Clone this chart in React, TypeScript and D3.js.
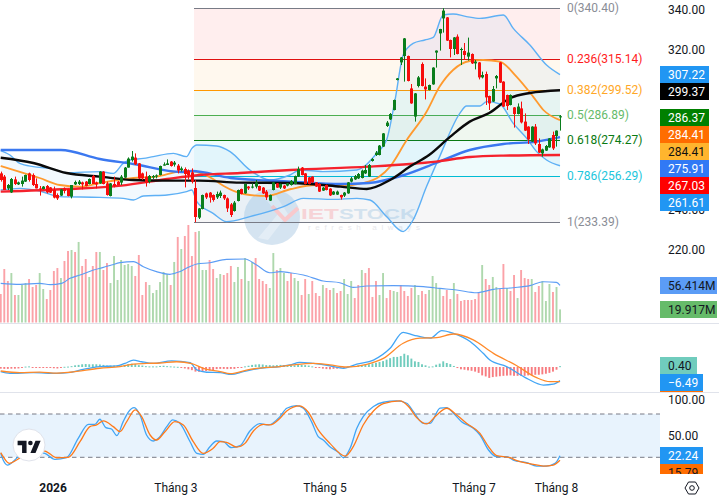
import React from "react";
import * as d3 from "d3";

type Pt = [number, number];

const opens = [257.8,256.2,250.3,248.3,254.8,252.3,252.5,253.7,257.8,257,252.5,250.3,250,251.5,250.8,249.5,247,246.7,250.3,250,246.2,252.3,252.5,253.3,253.7,252.5,256.5,253.3,252.8,258.7,252.8,246.5,252.5,253.7,253.2,255.7,260.7,264.5,265.7,262.8,257.8,256.2,253.7,255.8,256.2,257,261.7,262,263.7,262.2,261.7,259.5,260,259.2,258.3,250.5,235.7,240,247.8,248.2,247,245.8,246.5,247,245.3,242.3,239,244,250,247.8,251.2,250.7,251.2,251.5,250.7,248.7,244.2,249.5,252.8,250.7,251.7,251.7,252,252.5,256.2,260.7,257.8,255.8,256.2,253.3,252.5,249.2,252,250.2,247.2,247.2,247,246.7,247.8,253.7,254.8,255.3,255.5,257.8,256.2,264,267,267,271.2,281.5,284.8,289.5,304.5,313.3,316.5,316.5,300.3,286.2,301.5,312.5,301.2,299.5,302.3,318.2,327.8,335.3,335.8,324.5,320,326.2,319.5,319,316.2,317.5,312.8,313.3,305.8,307.5,296.5,293.7,305.3,313.3,303.7,297,292,290.8,287.5,290.3,283.7,281.2,273.7,281.2,272.5,267.8,269.2,270.8,277,276.5,285.8];
const closes = [254.5,249.5,252,255,252.5,253.3,254.2,257,254.5,252,250.3,249.8,251.2,248.3,248.2,245.7,245.3,249.8,249,246.5,252,253.5,253.7,252.3,251.5,255,252.5,252.3,258.7,252.5,247,252.8,251.5,252,256.2,260.7,265.2,266.2,262.3,255.3,255.3,253.3,256.5,256.5,256.8,261.5,262.3,262.8,261.5,263.2,259.2,260.3,257.5,257,253.7,236,240.3,247,245.8,245.7,244.5,247.5,248.2,245.3,240.3,237,243.2,249.5,247.5,252.5,250.3,251.2,253.2,249.2,247.8,245.8,247,253.3,250.7,252.5,250.3,252.8,254,256.5,260,257,252.5,252.5,253.3,251.2,248.7,250.7,249.5,246.8,248.7,248.7,245.8,248.2,253.3,255.3,256.5,257.5,259.2,259.5,262,265,268.2,271.7,277.8,283.2,287.5,294.5,305.3,315.8,325.3,304,292.8,297.8,305.8,301.5,299.8,302,310.7,319.2,330,339.2,324.2,320,325.8,317.5,320,317,318.2,312.8,313.7,305.8,307,295.8,292.8,300,306.5,303.2,291.2,291.5,297,287.5,291.2,283.3,279.2,274.8,281.2,272.8,268.2,269.8,271.5,275.3,270.3,279.2,286.37];
const highs = [258.7,257,252.5,255.5,256.2,253.7,256.2,257.2,258.2,257.8,255.3,251.5,251.5,252,251,251.2,247.8,250,250.8,250.2,252,254.2,254.5,253.7,254,255.3,257,253.7,258.9,258.9,253.7,253,256.2,254,257,261,265.8,269,267.8,263,258.2,258.7,257,257,257.3,261.7,263.3,264.8,264,264,262.5,261.2,260.8,259.8,260.3,254.5,240.5,247.2,248.2,248.5,247.3,248.7,249.2,247.2,245.8,243,244,249.7,250.2,252.7,251.5,252.8,254.5,251.7,251,249.5,247.2,253.5,253,252.7,252,253,254.5,256.7,261.2,261,258,256,256.4,253.5,253,251,252.2,250.4,249,249.2,247.2,248.5,253.5,256,257,258,259.7,262,262.5,265.5,269,272,278,284,288,294.7,305.5,316,325.5,316.7,302.5,298,306.5,313.3,305.3,302.2,310.9,319.3,330.1,340.4,336,324.7,326,327.3,320.7,323,325.7,317.8,314.5,313.5,308.7,308.7,296.7,301.5,307,313.5,303.9,297.2,297.3,291,292.8,293.7,287.8,281.4,281.4,282.5,275.3,270.2,272,275.5,278.7,279.3,287];
const lows = [253.7,249.5,249.5,248,252,252,251.2,253.5,253.7,251.5,250.3,246.7,249.8,247.8,248,245.3,244.5,246.5,247.8,246.3,245.3,252,252,249.8,251.3,252.3,252.5,250.3,252.6,252.3,246.7,246.3,250.8,251.8,252,255.5,260.7,263.7,262,255,254.5,251.2,252.8,255,255.3,256.8,261.7,262,261.2,261.2,257.8,258.7,250.8,254.8,252.8,233.39,235,239.8,245,243.2,243.7,245,245.5,244.5,238.5,236,238.7,243.8,247.3,247.6,249.5,250.3,250.3,249,247.5,244.5,244,249.3,250.5,250,250,251.3,251.7,252.3,256,256.8,252.3,252.3,253,251,248.5,249,249.3,246.5,247,247,244.7,246,247.6,253.3,254.5,255,255.3,257.5,256,263.7,266.5,266.8,271,281,284.5,289.3,304.3,312,303.7,303.8,292.6,283.7,300.8,301.3,294.8,299.3,302.1,310.7,319.2,328.2,324,315.8,317,317.3,312,314.5,314.2,312.5,309.8,304.8,305.3,292,289.5,293.5,300.3,303,291,289.5,291.8,280.7,287.3,282.8,279,272.5,273.5,272,268,266.2,269,270.6,269.5,271.2,279.2];

const volumes = [43.3,81.3,63.1,75.2,41.8,41.8,57,60,66.1,54,57,75.2,50.9,35.7,49.4,78.3,82.8,67.6,93.5,108.7,110.2,107.2,122.4,85.9,96.5,69.2,85.9,107.2,107.2,79.8,90.4,60,101,64.6,95,87.4,88.9,85.9,70.7,102.6,41.8,61.5,57,44.8,49.4,61.5,76.8,73.7,57,92,130,111.7,131.5,148.2,101,137.6,139,79.8,79.8,95,81.3,67.6,73.7,72.2,75.2,85.9,61.5,84.4,66.1,98,63.1,92,98,66.1,63.1,58.5,52.4,105.6,79.8,82.8,75.2,63.1,75.2,67.6,63.1,41.8,66.1,43.3,63.1,44.8,40.3,57,52.4,49.4,52.4,44.8,47.9,66.1,43.3,63.1,37.2,57,79.8,75.2,82.8,38.8,63.1,41.8,75.2,37.2,49.4,47.9,46.4,57,47.9,40.3,52.4,57,41.8,47.9,43.3,49.4,70.7,60,52.4,40.3,49.4,35.7,60,43.3,32.7,34.2,34.2,34.2,35.7,44.8,87.4,66.1,57,69.2,54,50.9,88.9,52.4,47.9,72.2,37.2,79.8,67.6,66.1,66.1,46.4,55.5,63.1,32.7,58.5,46.4,54,19.917];
const volumeSides = "rrrgrgggrrrggrrrrgrrgrgrrgrrgrrgggggggrrrrggggggrgrgrrrrgggrrggrrrggrgggrrrrggrggrrggrrgrrrgrrgrrggg".concat("rrgrrrrggrrggrrrrggrrggggrrrgrrrrrrrgrrggrrgrrgrrrgrrgggrgg");

const macdHist = [-.8,-.9,-.9,-.8,-.8,-.7,-.4,.2,.3,-.2,-.3,-.3,-.3,-.3,-.4,-.6,-.7,-.3,.1,.2,.4,.8,1,1.3,1.4,1.3,1.3,1.3,1.2,1,.7,.7,.7,.7,.7,1,1.4,1.6,1.4,.9,.7,.4,.3,.3,.3,.5,.6,.4,.3,.2,.1,-.2,-.7,-1.1,-1.5,-2.2,-2.3,-2.1,-1.9,-1.7,-1.5,-1,-.9,-.9,-1,-.9,-.9,-.5,-.3,.3,.6,1,1.2,1.3,1.2,.9,.9,.8,.9,1,.9,.8,.7,.8,1,1,.9,.7,.3,-.2,-.5,-.8,-1,-1.1,-.9,-.8,-.5,-.1,.2,.4,.5,.8,.9,1.1,1.3,1.7,2,2.4,2.8,3.5,4.2,4.8,4.8,5.2,6.3,5.6,4,2.7,2.4,1.3,.8,.2,.3,1.1,1.6,2.7,1.9,1.4,.5,-.5,-1.1,-1.3,-1.6,-1.8,-2.2,-2.8,-4,-4.5,-5.2,-4.8,-4.6,-4.4,-4.2,-4.1,-4,-4.2,-4.2,-4.2,-4.2,-4,-3.9,-3.7,-3.7,-3.5,-3.2,-2.8,-2.2,-1.3,.4];

const maBlue: Pt[] = [[0,269.5],[17,269.5],[28,265],[37.5,262.5],[51,258.5],[54,259],[65,255.5],[82,253.7],[96,252.5],[104,253],[114,257],[123,263],[132.5,269.5],[142,272.5],[151.4,273.7],[158,275.91]];
const maRed: Pt[] = [[0,248.7],[19,250],[34,251.7],[47,255],[56.3,257],[67.6,258],[82,259.5],[104,261.2],[115.6,262.5],[123,263.7],[132.5,266],[142,266.7],[158,267.03]];
const maBlack: Pt[] = [[0,265.6],[9.2,263],[18.6,258],[28,256.2],[37.5,254.5],[47,254.2],[56,254.2],[67.6,253.2],[82,253],[96,251.2],[103.4,250],[110,254.5],[115.6,261.2],[121,267],[127,276.2],[132.5,283.7],[138,288],[144,295.5],[149.5,298],[158,299.37]];
const maOrange: Pt[] = [[0,261.5],[5.4,258.6],[11,255.5],[16.7,252],[22.4,251.2],[28,253],[37.5,255.5],[44,256.2],[50,258.6],[53.5,259.1],[56.3,258],[60,255],[63,251.5],[68.6,247.5],[75,246.5],[82,250],[89,252],[96,251.5],[102.5,253],[107,256.2],[110,261.2],[114.7,274.5],[120.3,288.6],[124,301.2],[127.8,309.5],[132.5,314],[136.3,314.5],[141,313.7],[145.7,306.2],[150.4,296.2],[153.3,289.5],[158,284.41]];
const bbUpper: Pt[] = [[0,269.2],[2.6,267],[5.4,262.8],[9.2,261.2],[14,260.3],[18.6,258.2],[28,258.7],[31.8,257.8],[34.6,262.8],[36.5,264.5],[40.3,265.3],[43.1,266.2],[48.8,267.8],[52.5,266.2],[54,270.3],[55.4,272],[61,271.5],[64.8,268.7],[70.4,259.5],[76,254.5],[81.7,257],[84.6,259.5],[91,258.7],[100.6,259.5],[106.2,267.8],[109,274.5],[111.4,294.5],[113.7,317],[116.5,322.8],[119.8,324.5],[122.2,325.8],[125,337],[127.8,337.5],[131.6,336.2],[135.4,335.3],[142,337],[144.8,330.3],[149.5,322],[154.2,312],[158,307.22]];
const bbLower: Pt[] = [[0,249.5],[5.4,250.3],[11,249],[16.7,246.2],[28,245.8],[34.6,245.3],[37.5,244.5],[40.3,246.5],[47,247],[52.5,248.7],[54,249.5],[55.4,243.7],[60,237.8],[63.8,233.7],[70.4,236.2],[79.9,241.2],[85.5,245.3],[94,244.8],[100.6,245.3],[104.3,244.5],[109,236.2],[113.7,228.7],[116.5,234.5],[120.3,251.2],[124,266.2],[129.7,287.8],[131.6,291.5],[135.4,291.5],[137.3,293.7],[141,292.5],[144.8,282.8],[148.6,275.3],[151.4,268.7],[154.2,264.5],[158,261.61]];

const volumeMa: Pt[] = [[0,59.5],[5.5,58],[11,59.5],[14,57.5],[17.2,59.5],[19.6,67.1],[22.4,72.2],[26.2,79.8],[29,83.8],[31.3,87.4],[33.7,91],[37.5,92.5],[40.3,84.9],[44,77.3],[47.8,73.2],[50.6,77.3],[53,83.8],[55.4,88.9],[59.1,90.9],[63.8,96],[69,96.5],[72.3,87.4],[76,75.7],[79,77.3],[81.7,75.7],[85.5,72.2],[91.1,63.1],[95.8,60.5],[99.6,53.4],[103.4,55.5],[110.9,56],[119.4,54.5],[124.1,51.9],[128.8,49.4],[134.5,45.3],[139.2,50.4],[144.8,52.9],[149.5,56],[153.3,62],[157,61],[158,56.414]];

const macdLine: Pt[] = [[0,-2.2],[2.6,-3],[9.2,-2.7],[15.8,-3],[19.1,-2.7],[23.3,-1.1],[28,.2],[32.8,.5],[35.1,1.7],[37.5,3.3],[39.8,2.5],[43.1,1.7],[48.3,2.9],[53.5,2.1],[55.4,-1.4],[58.2,-2.5],[62,-2.7],[65.2,-3.5],[68.5,-2.2],[73.2,-.6],[78.9,.2],[81.7,1],[84.5,2.2],[88.3,1.7],[93,.6],[96.8,-.6],[100.6,1.4],[105.3,3.3],[110,8.9],[113.7,16.5],[116.6,15.2],[121.3,13.7],[124.6,17.3],[127.9,16],[132.6,12.1],[136.3,6.5],[138.2,3.3],[142.9,.2],[148.6,-5.4],[153.3,-8.6],[156.1,-8.2],[158,-6.49]];
const macdSignal: Pt[] = [[0,-1.9],[5.4,-2.7],[11,-2.4],[15.8,-2.9],[19.6,-2.5],[28,-.6],[33.7,.2],[37.5,1.4],[41.2,1.7],[45,1.9],[49.7,2.5],[54,1.6],[57.2,-.6],[62,-2.2],[64.8,-3.2],[70.4,-1.1],[75.1,-.2],[78.9,.2],[82.7,1],[88.3,1.7],[93,1],[97.7,0],[103.4,1.3],[108.1,4.1],[113.7,11.3],[118.4,13.7],[123.2,14],[127.9,15.7],[133.5,12.9],[139.2,6.5],[145.8,.6],[151.4,-5.1],[155.2,-7],[158,-7]];

const stochK: Pt[] = [[0,25.4],[.7,16.2],[1.9,9.2],[4,16.2],[5.4,23.1],[9,28],[12.5,25.4],[15.3,17.1],[18.6,19.4],[21.9,46.3],[24.8,65.7],[26.6,65.7],[28,72.7],[29.7,61.1],[31.3,59.2],[32.8,50],[34.6,69.4],[36,82.4],[37.7,88.9],[39.4,77.8],[41.2,50.9],[43.1,42.6],[45,48.6],[46.9,62.5],[48.6,71.8],[50.6,67.1],[53.5,41.6],[55.4,25.4],[57.2,24],[59.1,34.7],[61,42.6],[62.9,41.6],[65.2,33.3],[67.6,36.1],[70.4,56.5],[73.2,66.7],[75.6,64.8],[78.9,76.4],[80.8,88],[83.6,91.7],[85.5,88],[87.8,69.4],[89.7,48.6],[91.1,44],[93,34.7],[95.4,26.8],[96.8,19.4],[98.7,32.4],[100.6,60.2],[102.4,76.4],[105.3,90.3],[108.1,96.3],[111.9,98.1],[114.7,94.9],[116.6,83.3],[119.4,67.1],[121.3,67.1],[124.1,88],[126,88.9],[127.9,81],[130.2,69.4],[133.5,60.2],[135.4,50.9],[137.8,30.1],[140.1,20.8],[142.9,20.8],[144.8,16.2],[148.6,12.5],[151.4,7.9],[154.2,7.9],[156.6,11.6],[158,22.24]];
const stochD: Pt[] = [[0,26.4],[.7,20.8],[2.4,11.6],[4.5,16.2],[9,30],[12.5,28.7],[15.8,19.4],[19.1,19.9],[22.4,41.6],[25.2,62.5],[27.1,64.8],[29,70.4],[31.8,62.5],[33.7,55.5],[35.6,69.4],[38,85.6],[39.8,76.4],[42.2,50.9],[44,44],[46.4,55.5],[49.2,69.4],[51.6,64.8],[54.4,41.6],[57.2,25.4],[60,32.4],[62,41.6],[63.8,40.7],[66.7,34.2],[69,39.3],[71.4,56.5],[74.2,65.7],[76.1,64.8],[78.9,74],[80.8,84.2],[84.5,91.2],[86.9,82.4],[89.7,57.9],[93,39.3],[97.3,21.7],[99.6,34.7],[102.4,64.8],[105.3,84.2],[108.1,94.4],[112.8,98.1],[115.2,90.3],[117.5,75],[120.3,66.2],[123.2,78.7],[126,88],[128.8,78.7],[131.6,67.1],[135.4,53.2],[137.8,34.7],[140.1,22.2],[143.9,19.4],[145.8,15.3],[150.5,10.2],[153.3,7.9],[156.1,9.2],[158,15.79]];

const fibRatios = ["0","0.236","0.382","0.5","0.618","0.786","1"];
const fibPrices = [340.4,315.14,299.52,286.89,274.27,256.29,233.39];
const fibLineColors = ["#787b86","#e01010","#ff9800","#4caf50","#0a7a12","#00bcd4","#787b86"];
const fibTextColors = ["#8a8d96","#ff1c1c","#ffa726","#66bb6a","#0a7a12","#1cc6dc","#8a8d96"];
const fibFills = ["#ff0000","#ff9800","#4caf50","#0a8a12","#00bcd4","#787b86"];

const priceTicks = [340,320,240,220];
const stochTicks = [100,50];
const timeLabels = ["2026","Tháng 3","Tháng 5","Tháng 7","Tháng 8"];
const timeIndex = [14.8,49.5,91.6,133.7,157];

const priceLabels = ["307.22","299.37","286.37","284.41","284.41","275.91","267.03","261.61"];
const priceLabelFill = ["#2196f3","#000000","#008000","#ff6d00","#ffb52e","#3179f5","#ff0000","#2196f3"];
const priceLabelText = ["#fff","#fff","#fff","#fff","#111","#fff","#fff","#fff"];
const priceLabelTop = [66,83,109,126,143,160,177,194];

const FONT = "Roboto, sans-serif";

export default function App() {
  const n = closes.length;
  const x = d3.scaleLinear().domain([0, n - 1]).range([0.7, 560]);
  const y = d3.scaleLinear().domain([340, 220]).range([9, 249]);
  const yVol = d3.scaleLinear().domain([0, 148.2]).range([322.5, 225]);
  const yMacd = d3.scaleLinear().domain([0, 16.8]).range([367, 331.7]);
  const yStoch = d3.scaleLinear().domain([20, 80]).range([457.3, 414]);

  const line = (sc: d3.ScaleLinear<number, number>) =>
    d3.line<Pt>().x((d) => x(d[0])).y((d) => sc(d[1])).curve(d3.curveMonotoneX);

  const bandTop = line(y)(bbUpper) as string;
  const bandBottom = (line(y)([...bbLower].reverse()) as string) || "";
  const bandPath = bandTop + "L" + bandBottom.slice(1) + "Z";

  const fx0 = 194;
  const fx1 = 560;

  return (
    <svg
      width={719}
      height={502}
      viewBox="0 0 719 502"
      style={{ position: "fixed", left: 0, top: 0, display: "block", background: "#fff" }}
      fontFamily={FONT}
      fontSize={12}
    >
      {/* fib backgrounds */}
      {fibFills.map((c, i) => (
        <rect key={i} x={fx0} width={fx1 - fx0} y={y(fibPrices[i])} height={y(fibPrices[i + 1]) - y(fibPrices[i])} fill={c} opacity={0.065} />
      ))}

      {/* watermark */}
      <g>
        <circle cx={272} cy={217} r={28} fill="#c7dbec" opacity={0.75} />
        <path d="M262 195 L278 214 L258 238 L268 240 L288 214 L274 193 Z" fill="#ffffff" opacity={0.35} />
        <path d="M272 206 L285 220 L298 208" fill="none" stroke="#f8c9cc" strokeWidth={4} />
        <text x={301} y={219} fontFamily="'Liberation Sans', sans-serif" fontWeight={700} fontSize={15} textLength={38} lengthAdjust="spacingAndGlyphs" fill="#f6d3d6">IET</text>
        <text x={339} y={219} fontFamily="'Liberation Sans', sans-serif" fontWeight={700} fontSize={15} textLength={77} lengthAdjust="spacingAndGlyphs" fill="#d3e2ee">STOCK</text>
        <text x={308} y={230} fontFamily="'Liberation Sans', sans-serif" fontSize={8} textLength={112} fill="#e8e8ec">refresh always</text>
      </g>

      {/* fib lines */}
      {fibPrices.map((p, i) => (
        <line key={i} x1={fx0} x2={fx1} y1={Math.round(y(p)) + 0.5} y2={Math.round(y(p)) + 0.5} stroke={fibLineColors[i]} strokeWidth={1} />
      ))}

      {/* bollinger */}
      <path d={bandPath} fill="#2196f3" opacity={0.06} />
      <path d={line(y)(bbUpper) as string} fill="none" stroke="#5eb0f5" strokeWidth={1.4} />
      <path d={line(y)(bbLower) as string} fill="none" stroke="#5eb0f5" strokeWidth={1.4} />

      {/* moving averages behind candles */}
      <path d={line(y)(maOrange) as string} fill="none" stroke="#ff9a2e" strokeWidth={1.8} />
      <path d={line(y)(maBlue) as string} fill="none" stroke="#3b78f0" strokeWidth={2.4} />
      <path d={line(y)(maRed) as string} fill="none" stroke="#f5222d" strokeWidth={2.4} />
      <path d={line(y)(maBlack) as string} fill="none" stroke="#0a0a0a" strokeWidth={2.4} />

      {/* candles */}
      {closes.map((c, i) => {
        const up = c >= opens[i];
        const col = up ? "#0a7d1c" : "#f70d0d";
        const cx = Math.round(x(i));
        const t = y(Math.max(c, opens[i]));
        const b = y(Math.min(c, opens[i]));
        return (
          <g key={i}>
            <rect x={cx} width={1} y={y(highs[i])} height={y(lows[i]) - y(highs[i])} fill={col} />
            <rect x={cx - 1} width={3} y={t} height={Math.max(b - t, 1)} fill={col} />
          </g>
        );
      })}

      {/* volume */}
      {volumes.map((v, i) => (
        <rect key={i} x={x(i) - 0.9} width={1.9} y={yVol(v)} height={yVol(0) - yVol(v)} fill={volumeSides[i] === "g" ? "#aed8ad" : "#fba2a8"} />
      ))}
      <path d={line(yVol)(volumeMa) as string} fill="none" stroke="#5c9df5" strokeWidth={1.1} />
      <line x1={0} x2={719} y1={323.5} y2={323.5} stroke="#e0e3eb" />

      {/* macd */}
      {macdHist.map((v, i) => {
        const a = yMacd(v);
        const b = yMacd(0);
        return (
          <rect key={i} x={x(i) - 0.9} width={1.9} y={Math.min(a, b)} height={Math.max(Math.abs(a - b), 1)} fill={v >= 0 ? "#70ccbd" : "#f77c80"} />
        );
      })}
      <path d={line(yMacd)(macdLine) as string} fill="none" stroke="#42a5f5" strokeWidth={1.3} />
      <path d={line(yMacd)(macdSignal) as string} fill="none" stroke="#ff8a2a" strokeWidth={1.3} />
      <line x1={0} x2={719} y1={392.5} y2={392.5} stroke="#e0e3eb" />

      {/* stochastic */}
      <rect x={0} width={660} y={yStoch(80)} height={yStoch(20) - yStoch(80)} fill="#e8f3fd" />
      {[80, 20].map((v) => (
        <line key={v} x1={0} x2={660} y1={yStoch(v)} y2={yStoch(v)} stroke="#787b86" strokeWidth={1} strokeDasharray="4.5 3.5" />
      ))}
      <path d={line(yStoch)(stochK) as string} fill="none" stroke="#42a5f5" strokeWidth={1.3} />
      <path d={line(yStoch)(stochD) as string} fill="none" stroke="#ff7a1a" strokeWidth={1.3} />

      {/* tradingview logo */}
      <circle cx={29} cy={445} r={16} fill="#fff" stroke="#e0e3eb" strokeWidth={1} />
      <g transform="translate(17.6,437) scale(0.64)" fill="#131722">
        <path d="M14 6H0v7h7v12h7V6zM28 25h-8L28 6h8L28 25zM20 13a3.6 3.6 0 1 0 0-7.2 3.6 3.6 0 0 0 0 7.2z" />
      </g>

      {/* fib labels */}
      {fibRatios.map((r, i) => (
        <text key={i} x={567} y={y(fibPrices[i]) + 4} fill={fibTextColors[i]}>{`${r}(${fibPrices[i].toFixed(2)})`}</text>
      ))}

      {/* axes */}
      {priceTicks.map((t) => (
        <text key={t} x={668} y={y(t) + 4.5} fill="#131722">{t.toFixed(2)}</text>
      ))}
      {stochTicks.map((t) => (
        <text key={t} x={668} y={yStoch(t) + 4} fill="#131722">{t.toFixed(2)}</text>
      ))}

      {priceLabels.map((l, i) => (
        <g key={i}>
          <rect x={660} y={priceLabelTop[i]} width={49} height={17} fill={priceLabelFill[i]} />
          <text x={668} y={priceLabelTop[i] + 13} fill={priceLabelText[i]}>{l}</text>
        </g>
      ))}

      <rect x={660} y={277} width={57} height={17} fill="#5b9cf6" />
      <text x={668} y={290} fill="#131722">56.414M</text>
      <rect x={660} y={301} width={57} height={17} fill="#66bb6a" />
      <text x={668} y={314} fill="#131722">19.917M</text>

      <rect x={660} y={357} width={37} height={17} fill="#70ccbd" />
      <text x={668} y={370} fill="#131722">0.40</text>
      <rect x={660} y={375} width={43} height={17} fill="#ff6d00" />
      <rect x={660} y={374} width={43} height={17} fill="#2196f3" />
      <text x={668} y={387} fill="#fff">−6.49</text>

      <rect x={660} y={464} width={43} height={17} fill="#ff6d00" />
      <text x={668} y={477} fill="#131722">15.79</text>
      <rect x={660} y={447} width={43} height={17} fill="#2196f3" />
      <text x={668} y={460} fill="#fff">22.24</text>
      <rect x={0} y={474} width={719} height={28} fill="#fff" />

      {/* time axis */}
      {timeLabels.map((l, i) => (
        <text key={l} x={x(timeIndex[i])} y={492} textAnchor="middle" fill="#131722" fontWeight={l === "2026" ? 700 : 400}>{l}</text>
      ))}

      {/* settings */}
      <g transform="translate(692,488)" fill="none" stroke="#131722" strokeWidth={1}>
        <path d="M-7 0 L-3.5 -6 L3.5 -6 L7 0 L3.5 6 L-3.5 6 Z" />
        <circle r={2.3} />
      </g>
    </svg>
  );
}
